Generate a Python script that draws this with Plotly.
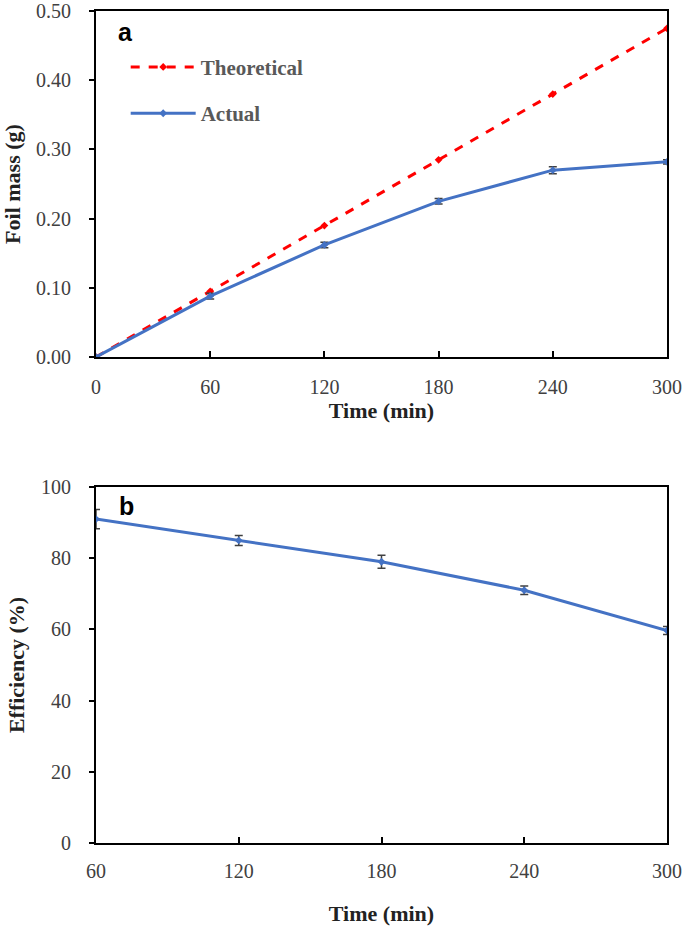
import plotly.graph_objects as go

time_a = [0, 60, 120, 180, 240, 300]
theoretical = [0.0, 0.095, 0.19, 0.285, 0.38, 0.475]
actual = [0.0, 0.088, 0.162, 0.225, 0.270, 0.282]
actual_err = [0.0, 0.004, 0.004, 0.004, 0.005, 0.003]

time_b = [60, 120, 180, 240, 300]
efficiency = [91.0, 85.0, 79.0, 71.0, 59.7]
efficiency_err = [2.7, 1.4, 1.8, 1.2, 1.1]

x_ticks_a = [0, 60, 120, 180, 240, 300]
y_ticks_a = [0.0, 0.1, 0.2, 0.3, 0.4, 0.5]
x_ticks_b = [60, 120, 180, 240, 300]
y_ticks_b = [0, 20, 40, 60, 80, 100]

RED = "#FF0000"
BLUE = "#4472C4"
ERR = "#404040"
TICKFONT = dict(family="Liberation Serif", size=20, color="#404040")
TITLEFONT = dict(family="Liberation Serif", size=22, color="#222222")

fig = go.Figure()

fig.add_trace(go.Scatter(
    x=time_a, y=theoretical, name="Theoretical", mode="lines+markers",
    line=dict(color=RED, width=3, dash="dash"),
    marker=dict(color=RED, size=6, symbol="diamond"),
    xaxis="x", yaxis="y", legendgroup="g1"))
fig.add_trace(go.Scatter(
    x=time_a, y=actual, name="Actual", mode="lines+markers",
    line=dict(color=BLUE, width=3),
    marker=dict(color=BLUE, size=6, symbol="diamond"),
    error_y=dict(type="data", array=actual_err, color=ERR, thickness=1.5, width=4),
    xaxis="x", yaxis="y", legendgroup="g2"))
fig.add_trace(go.Scatter(
    x=time_b, y=efficiency, name="Efficiency", mode="lines+markers",
    line=dict(color=BLUE, width=3),
    marker=dict(color=BLUE, size=6, symbol="diamond"),
    error_y=dict(type="data", array=efficiency_err, color=ERR, thickness=1.5, width=4),
    xaxis="x2", yaxis="y2", showlegend=False))

axis_common = dict(showline=True, linecolor="black", linewidth=2, mirror=True,
                   showgrid=False, zeroline=False, tickcolor="black", tickwidth=1.5,
                   tickfont=TICKFONT, automargin=False, ticklabeloverflow="allow")
xcommon = dict(ticks="inside", ticklen=6, **axis_common)
ycommon = dict(ticks="outside", ticklen=5, ticklabelstandoff=14, **axis_common)

fig.update_layout(
    width=685, height=930,
    margin=dict(l=96, r=18, t=11, b=87),
    plot_bgcolor="white", paper_bgcolor="white",
    xaxis=dict(domain=[0, 1], anchor="y", range=[0, 300], tickvals=x_ticks_a,
               ticklabelstandoff=11,
               title=dict(text="<b>Time (min)</b>", font=TITLEFONT, standoff=2),
               **xcommon),
    yaxis=dict(domain=[0.5841, 1.0], anchor="x", range=[0, 0.5], tickvals=y_ticks_a,
               tickformat=".2f",
               title=dict(text="<b>Foil mass (g)</b>", font=TITLEFONT, standoff=10),
               **ycommon),
    xaxis2=dict(domain=[0, 1], anchor="y2", range=[60, 300], tickvals=x_ticks_b,
                ticklabelstandoff=9,
                title=dict(text="<b>Time (min)</b>", font=TITLEFONT, standoff=25),
                **xcommon),
    yaxis2=dict(domain=[0, 0.4279], anchor="x2", range=[0, 100], tickvals=y_ticks_b,
                title=dict(text="<b>Efficiency (%)</b>", font=TITLEFONT, standoff=10),
                **ycommon),
    legend=dict(x=0.052, y=0.957, xanchor="left", yanchor="top",
                bgcolor="rgba(0,0,0,0)", traceorder="grouped", tracegroupgap=16,
                font=dict(family="Liberation Serif", size=21, color="#595959", weight="bold"),
                itemwidth=65),
    annotations=[
        dict(text="<b>a</b>", xref="paper", yref="paper", x=0.051, y=0.975,
             xanchor="center", yanchor="middle", showarrow=False,
             font=dict(family="Liberation Sans", size=25, color="black")),
        dict(text="<b>b</b>", xref="paper", yref="paper", x=0.053, y=0.405,
             xanchor="center", yanchor="middle", showarrow=False,
             font=dict(family="Liberation Sans", size=25, color="black")),
    ],
)

fig.write_html("out.html", config={"displayModeBar": False},
               post_script="document.body.style.margin='0px';")
